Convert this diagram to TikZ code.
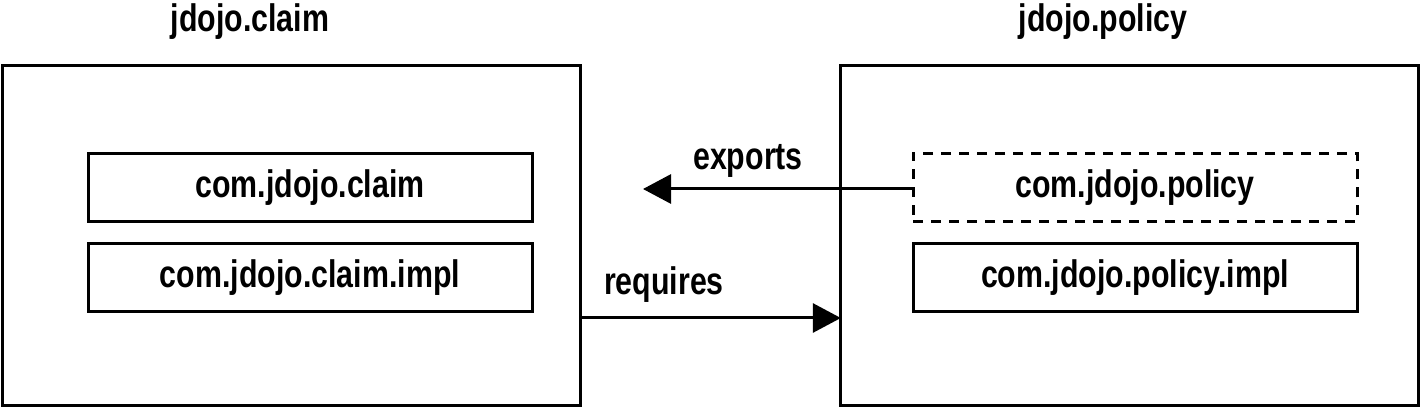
\documentclass[tikz,border=0pt]{standalone}
\usepackage{fontspec}
\setmainfont{Liberation Sans}[FakeStretch=0.79]
\usetikzlibrary{arrows.meta}

\tikzset{every picture/.style={line width=2.25pt}}
\tikzset{
  modbox/.style={draw, inner sep=0pt, outer sep=0pt, minimum width=433pt, minimum height=255pt},
  pkgbox/.style={draw, inner sep=0pt, outer sep=0pt, minimum width=333pt, minimum height=51pt, font=\fontsize{28.8}{30}\selectfont\bfseries},
  hiddenpkg/.style={pkgbox, dash pattern=on 7.5pt off 6pt},
  lbl/.style={anchor=base, inner sep=0pt, font=\fontsize{28.8}{30}\selectfont\bfseries},
  arr/.style={-{Triangle[length=21pt,width=21.75pt]}}
}

\begin{document}
\begin{tikzpicture}[x=0.75pt,y=0.75pt,yscale=-1,xscale=1]
	\useasboundingbox (0,0) rectangle (1425,409);

	% Modules
	\node [modbox] (claim) at (291.5,236) {};
	\node [modbox] (policy) at (1129.5,236) {};

	% Packages
	\node [pkgbox] (claimpkg) at (310,187.5) {com.jdojo.claim};
	\node [pkgbox] (claimimpl) at (310,278) {com.jdojo.claim.impl};
	\node [hiddenpkg] (policypkg) at (1135,187.5) {com.jdojo.policy};
	\node [pkgbox] (policyimpl) at (1135,278) {com.jdojo.policy.impl};

	% Text Node
	\node [lbl] (claimtitle) at (250,32) {jdojo.claim};
	% Text Node
	\node [lbl] (policytitle) at (1103,32) {jdojo.policy};
	% Text Node
	\node [lbl] (exportslbl) at (748,170) {exports};
	% Text Node
	\node [lbl] (requireslbl) at (664,295) {requires};

	% Arrows
	\coordinate (exportend) at (643,189);
	\coordinate (reqy) at (0,318);
	\draw [arr] (policypkg.west |- exportend) -- (exportend);
	\draw [arr] (claim.east |- reqy) -- (policy.west |- reqy);

\end{tikzpicture}
\end{document}
